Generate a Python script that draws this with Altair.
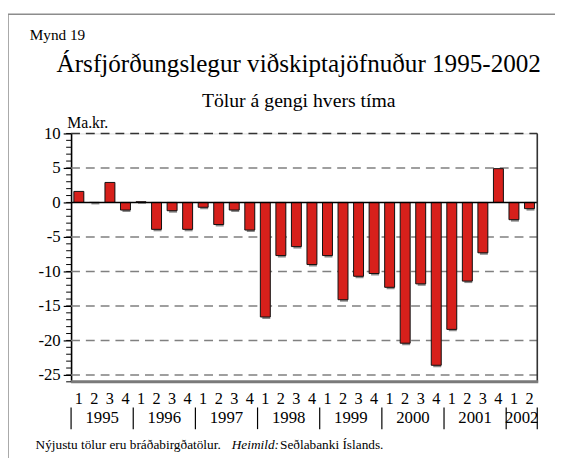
import altair as alt
import pandas as pd

# ---- data ----
years = [1995, 1996, 1997, 1998, 1999, 2000, 2001, 2002]
quarters = [1, 2, 3, 4] * 7 + [1, 2]
quarter_year = [y for y in years[:-1] for _ in range(4)] + [2002, 2002]
values = [1.6, 0.0, 2.9, -1.1,
          0.1, -3.9, -1.2, -3.9,
          -0.7, -3.2, -1.1, -4.0,
          -16.6, -7.7, -6.4, -9.0,
          -7.7, -14.1, -10.7, -10.3,
          -12.3, -20.4, -11.8, -23.6,
          -18.4, -11.4, -7.3, 4.9,
          -2.5, -0.9]
y_ticks = [10, 5, 0, -5, -10, -15, -20, -25]
grid_vals = [5, -5, -10, -15, -20, -25]
y_min, y_max = -26, 10

title = "Ársfjórðungslegur viðskiptajöfnuður 1995-2002"
subtitle = "Tölur á gengi hvers tíma"
fig_label = "Mynd 19"
unit = "Ma.kr."
foot1 = "Nýjustu tölur eru bráðabirgðatölur."
foot2 = "Heimild:"
foot3 = "Seðlabanki Íslands."

FONT = "Liberation Serif"
W, H = 473, 252
RED = "#d7201b"

n = len(values)
df = pd.DataFrame({
    "idx": list(range(n)),
    "q": [str(q) for q in quarters],
    "year": quarter_year,
    "value": values,
})
df["x1"] = df["idx"] - 0.32
df["x2"] = df["idx"] + 0.32

year_df = df.groupby("year", as_index=False)["idx"].mean().rename(columns={"idx": "xc"})
year_df["label"] = year_df["year"].astype(str)
sep_df = pd.DataFrame({"sx": [df[df.year == y]["idx"].min() - 0.5 for y in years] + [n - 0.5]})

xs = alt.Scale(domain=[-0.5, n - 0.5], nice=False, zero=False)
ys = alt.Scale(domain=[y_min, y_max], nice=False, zero=False)

grid = alt.Chart(pd.DataFrame({"g": grid_vals})).mark_rule(
    color="#808080", strokeWidth=1.6, strokeDash=[9, 6]
).encode(y=alt.Y("g:Q", scale=ys, axis=None), x=alt.value(0), x2=alt.value(W))

top_line = alt.Chart(pd.DataFrame({"g": [y_max]})).mark_rule(
    color="#333333", strokeWidth=1.6, strokeDash=[9, 6]
).encode(y=alt.Y("g:Q", scale=ys, axis=None), x=alt.value(0), x2=alt.value(W))

shadow = alt.Chart(df).mark_bar(color="#8a8a8a", xOffset=2, yOffset=2).encode(
    x=alt.X("x1:Q", scale=xs, axis=None), x2="x2:Q",
    y=alt.Y("value:Q", scale=ys, axis=None), y2=alt.datum(0),
)

bars = alt.Chart(df).mark_bar(color=RED, stroke="#111111", strokeWidth=1).encode(
    x=alt.X("x1:Q", scale=xs, axis=None), x2="x2:Q",
    y=alt.Y("value:Q", scale=ys, axis=alt.Axis(
        values=y_ticks, tickSize=8, tickColor="#000000", tickWidth=1.2,
        domainColor="#000000", domainWidth=1.6, grid=False,
        labelFont=FONT, labelFontSize=17, labelColor="#000000", labelPadding=3,
        labelExpr="datum.value < 0 ? '-' + abs(datum.value) : '' + datum.value",
        title=None)),
    y2=alt.datum(0),
)

zero_line = alt.Chart(pd.DataFrame({"g": [0]})).mark_rule(color="#000000", strokeWidth=1.6).encode(
    y=alt.Y("g:Q", scale=ys, axis=None), x=alt.value(0), x2=alt.value(W))

minor = alt.Chart(pd.DataFrame({"m": list(range(y_min, y_max + 1))})).mark_rule(
    color="#000000", strokeWidth=1).encode(
    y=alt.Y("m:Q", scale=ys, axis=None), x=alt.value(-5), x2=alt.value(0))

right_border = alt.Chart(pd.DataFrame({"r": [n - 0.5]})).mark_rule(color="#333333", strokeWidth=1.6).encode(
    x=alt.X("r:Q", scale=xs, axis=None), y=alt.value(0), y2=alt.value(H))

bottom_border = alt.Chart(pd.DataFrame({"g": [y_min]})).mark_rule(color="#7a7a7a", strokeWidth=3).encode(
    y=alt.Y("g:Q", scale=ys, axis=None), x=alt.value(0), x2=alt.value(W + 1))

q_labels = alt.Chart(df).mark_text(font=FONT, fontSize=16.5, baseline="middle", color="#000000").encode(
    x=alt.X("idx:Q", scale=xs, axis=None), y=alt.value(H + 18), text="q:N")

y_labels = alt.Chart(year_df).mark_text(font=FONT, fontSize=17, baseline="middle", color="#000000").encode(
    x=alt.X("xc:Q", scale=xs, axis=None), y=alt.value(H + 37), text="label:N")

seps = alt.Chart(sep_df).mark_rule(color="#000000", strokeWidth=1.2).encode(
    x=alt.X("sx:Q", scale=xs, axis=None), y=alt.value(H + 26), y2=alt.value(H + 48))


def txt(s, x, y, size, align="left", style="normal"):
    return alt.Chart(pd.DataFrame({"t": [s]})).mark_text(
        font=FONT, fontSize=size, align=align, baseline="alphabetic",
        fontStyle=style, color="#000000").encode(
        x=alt.value(x), y=alt.value(y), text="t:N")


frame_v = alt.Chart(pd.DataFrame({"a": [0]})).mark_rule(color="#8c8c8c", strokeWidth=1.5).encode(
    x=alt.value(-64), y=alt.value(-121), y2=alt.value(330))
frame_h = alt.Chart(pd.DataFrame({"a": [0]})).mark_rule(color="#8c8c8c", strokeWidth=1.5).encode(
    y=alt.value(-121), x=alt.value(-64), x2=alt.value(500))

texts = [
    txt(fig_label, -42, -95, 15.5),
    txt(title, 231, -62, 25.5, align="center"),
    txt(subtitle, 231, -27, 20, align="center"),
    txt(unit, -4, -6, 16),
    txt(foot1, -36, 320, 13.5),
    txt(foot2, 163, 320, 13.5, style="italic"),
    txt(foot3, 212, 320, 13.5),
]

chart = alt.layer(
    frame_v, frame_h, grid, top_line, shadow, bars, zero_line, minor,
    right_border, bottom_border, q_labels, y_labels, seps, *texts
).resolve_axis(y="independent", x="independent").properties(
    width=W, height=H,
    autosize=alt.AutoSizeParams(type="none"),
    padding={"left": 64, "top": 124, "right": 18, "bottom": 74},
).configure_view(stroke=None).configure(background="#ffffff")

chart.save("out.html", embed_options={"renderer": "svg", "actions": False})
